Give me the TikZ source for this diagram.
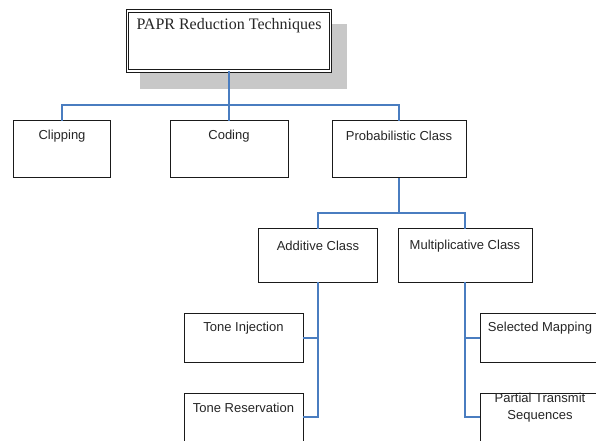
\documentclass[tikz,border=0pt]{standalone}
\usepackage{fontspec}
\setmainfont{Liberation Sans}
\newfontfamily\serifface{Liberation Serif}
\definecolor{conncol}{HTML}{4A7DC0}
\definecolor{shadowcol}{HTML}{C8C8C8}
\definecolor{edgecol}{HTML}{1A1A1A}
\definecolor{txtcol}{HTML}{262626}
\begin{document}
\begin{tikzpicture}[x=1bp,y=-1bp,
  box/.style={draw=edgecol, line width=1bp, fill=white, inner sep=0pt, outer sep=0pt},
  lab/.style={anchor=center, yshift=-15bp, text=txtcol, font=\fontsize{13bp}{17bp}\selectfont, align=center},
  conn/.style={draw=conncol, line width=1.2bp}]
\useasboundingbox (0,0) rectangle (596,441);
% shadow of title box
\fill[shadowcol] (140,24) rectangle (347,89);
% title box
\node[box, draw=edgecol, double=white, double distance=1.3bp, line width=1.1bp,
      minimum width=203bp, minimum height=60bp,
      label={[anchor=center, yshift=-15bp, text=txtcol, font=\serifface\fontsize{16bp}{18bp}\selectfont]north:PAPR Reduction Techniques}]
      (top) at (229,41) {};
% level 1
\node[box, minimum width=97bp, minimum height=57bp, label={[lab]north:Clipping}] (clip) at (62,149.5) {};
\node[box, minimum width=118bp, minimum height=57bp, label={[lab]north:Coding}] (coding) at (229,149.5) {};
\node[box, minimum width=134bp, minimum height=57bp, label={[lab]north:Probabilistic Class}] (prob) at (399,149.5) {};
% level 2
\node[box, minimum width=119bp, minimum height=53bp, label={[lab, yshift=-2bp]north:Additive Class}] (add) at (318,255.5) {};
\node[box, minimum width=134bp, minimum height=53bp, label={[lab, yshift=-2bp]north:Multiplicative Class}] (mult) at (465,255.5) {};
% level 3
\node[box, minimum width=119bp, minimum height=49bp, label={[lab]north:Tone Injection}] (ti) at (243.5,338) {};
\node[box, minimum width=119bp, minimum height=48bp, label={[lab]north:Tone Reservation}] (tr) at (243.5,417) {};
\node[box, minimum width=120bp, minimum height=49bp, label={[lab]north:Selected Mapping}] (sm) at (540,338) {};
\node[box, minimum width=120bp, minimum height=48bp, label={[lab, yshift=0.5bp]north:Partial Transmit\\Sequences}] (pts) at (540,417) {};
% connectors
\coordinate (bus1) at (229,105);
\coordinate (bus2) at (399,213);
\draw[conn] (top.south) -- (coding.north);
\draw[conn] (clip.north) |- (bus1) -| (prob.north);
\draw[conn] (prob.south) -- (bus2);
\draw[conn] (add.north) |- (bus2) -| (mult.north);
\draw[conn] (add.south) |- (tr.east);
\draw[conn] (ti.east) -- (ti.east -| add.south);
\draw[conn] (mult.south) |- (pts.west);
\draw[conn] (sm.west) -- (sm.west -| mult.south);
\end{tikzpicture}
\end{document}
